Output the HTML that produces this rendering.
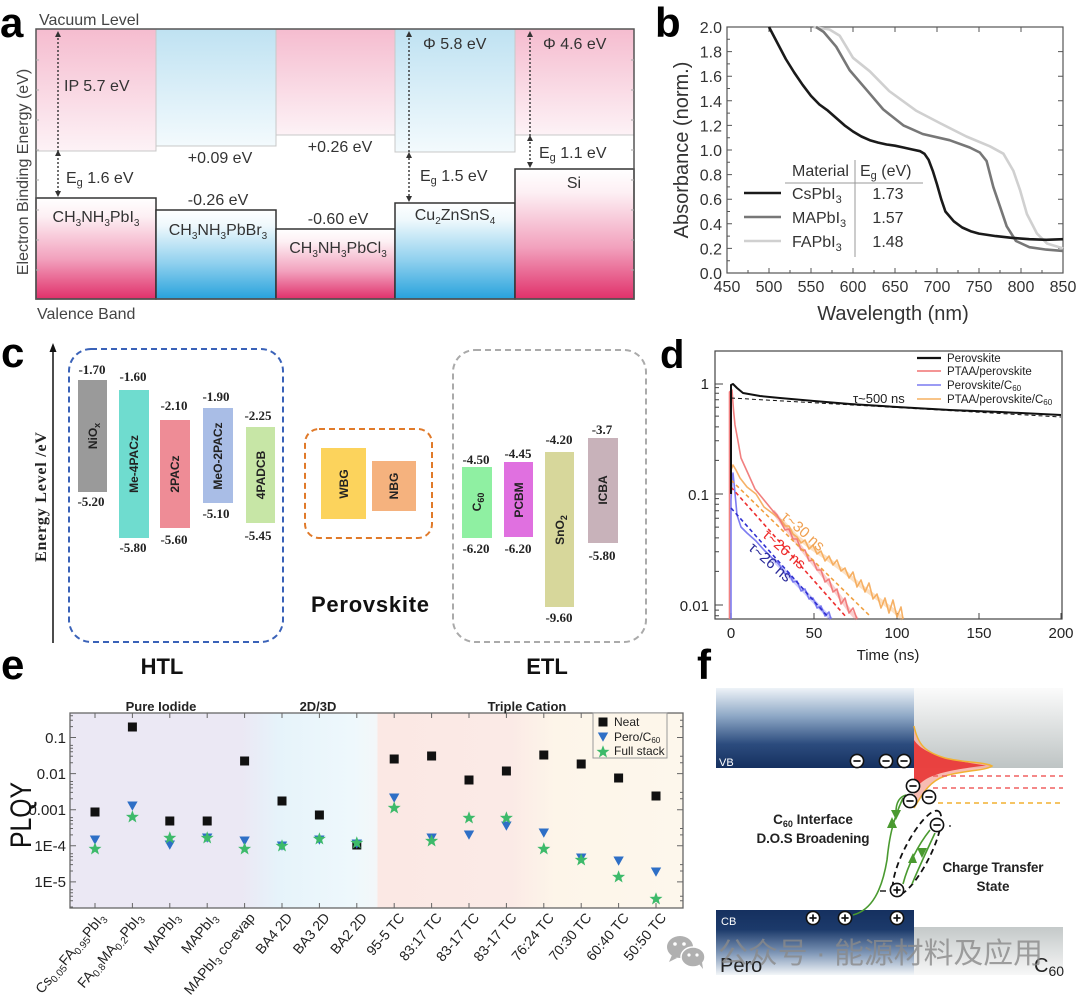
<!DOCTYPE html>
<html><head><meta charset="utf-8">
<style>
html,body{margin:0;padding:0;background:#fff;}
svg{display:block;font-family:"Liberation Sans","Noto Sans CJK SC",sans-serif;}
</style></head><body>
<svg width="1080" height="997" viewBox="0 0 1080 997" xmlns="http://www.w3.org/2000/svg">
<defs>
<linearGradient id="pinkUp" x1="0" y1="0" x2="0" y2="1"><stop offset="0" stop-color="#f5bccf"/><stop offset="1" stop-color="#fdf2f6"/></linearGradient>
<linearGradient id="blueUp" x1="0" y1="0" x2="0" y2="1"><stop offset="0" stop-color="#bfe2f2"/><stop offset="1" stop-color="#f3fafd"/></linearGradient>
<linearGradient id="pinkDn" x1="0" y1="0" x2="0" y2="1"><stop offset="0" stop-color="#ffffff"/><stop offset="0.18" stop-color="#fdf0f4"/><stop offset="0.6" stop-color="#f2a2be"/><stop offset="1" stop-color="#e0306a"/></linearGradient>
<linearGradient id="blueDn" x1="0" y1="0" x2="0" y2="1"><stop offset="0" stop-color="#ffffff"/><stop offset="0.18" stop-color="#eef8fc"/><stop offset="0.6" stop-color="#8fd0ee"/><stop offset="1" stop-color="#27a2dc"/></linearGradient>
<linearGradient id="ebg" x1="0" y1="0" x2="1" y2="0">
<stop offset="0" stop-color="#ebe8f4"/><stop offset="0.28" stop-color="#ebe8f4"/><stop offset="0.34" stop-color="#e6f3fa"/><stop offset="0.46" stop-color="#eef8fc"/><stop offset="0.5" stop-color="#f3f7f9"/><stop offset="0.503" stop-color="#fbe8e4"/><stop offset="0.72" stop-color="#fbeae6"/><stop offset="0.79" stop-color="#fdf5e9"/><stop offset="1" stop-color="#fdf7ec"/></linearGradient>
<linearGradient id="vb" x1="0" y1="0" x2="0" y2="1"><stop offset="0" stop-color="#eef3f8"/><stop offset="0.35" stop-color="#8ea8c6"/><stop offset="0.7" stop-color="#2c4c7e"/><stop offset="1" stop-color="#15305f"/></linearGradient>
<linearGradient id="c60t" x1="0" y1="0" x2="0" y2="1"><stop offset="0" stop-color="#fbfbfb"/><stop offset="1" stop-color="#bec4c4"/></linearGradient>
<linearGradient id="cb" x1="0" y1="0" x2="0" y2="1"><stop offset="0" stop-color="#15305f"/><stop offset="0.3" stop-color="#1c3a6b"/><stop offset="0.65" stop-color="#7a93b4"/><stop offset="1" stop-color="#f3f6f9"/></linearGradient>
<linearGradient id="c60b" x1="0" y1="0" x2="0" y2="1"><stop offset="0" stop-color="#c4c9c9"/><stop offset="1" stop-color="#f7f7f7"/></linearGradient>
<rect id="sq" x="-4.5" y="-4.5" width="9" height="9" fill="#111"/>
<path id="tri" d="M-5.2,-4.5 L5.2,-4.5 0,4.8Z" fill="#2e6fc6"/>
<path id="star" d="M0,-6.8 L1.7,-2.2 6.5,-2.1 2.7,0.9 4,5.5 0,2.8 -4,5.5 -2.7,0.9 -6.5,-2.1 -1.7,-2.2Z" fill="#3dba6a"/>
<g id="mi"><circle r="6.6" fill="#fff" stroke="#111" stroke-width="1.6"/><line x1="-3.6" x2="3.6" y1="0" y2="0" stroke="#111" stroke-width="1.7"/></g>
<g id="pl"><circle r="6.6" fill="#fff" stroke="#111" stroke-width="1.6"/><line x1="-3.6" x2="3.6" y1="0" y2="0" stroke="#111" stroke-width="1.7"/><line y1="-3.6" y2="3.6" x1="0" x2="0" stroke="#111" stroke-width="1.7"/></g>
</defs>

<!-- ================= PANEL A ================= -->
<text x="0" y="37" font-size="42" font-weight="bold" fill="#000">a</text>
<rect x="36" y="29" width="120" height="122" fill="url(#pinkUp)" stroke="#c8c8c8"/>
<rect x="156" y="29" width="120" height="117" fill="url(#blueUp)" stroke="#c8c8c8"/>
<rect x="276" y="29" width="119" height="106" fill="url(#pinkUp)" stroke="#c8c8c8"/>
<rect x="395" y="29" width="120" height="123" fill="url(#blueUp)" stroke="#c8c8c8"/>
<rect x="515" y="29" width="119" height="106" fill="url(#pinkUp)" stroke="#c8c8c8"/>
<rect x="36" y="198" width="120" height="101" fill="url(#pinkDn)" stroke="#333" stroke-width="1.5"/>
<rect x="156" y="210" width="120" height="89" fill="url(#blueDn)" stroke="#333" stroke-width="1.5"/>
<rect x="276" y="229" width="119" height="70" fill="url(#pinkDn)" stroke="#333" stroke-width="1.5"/>
<rect x="395" y="203" width="120" height="96" fill="url(#blueDn)" stroke="#333" stroke-width="1.5"/>
<rect x="515" y="169" width="119" height="130" fill="url(#pinkDn)" stroke="#333" stroke-width="1.5"/>
<rect x="36" y="29" width="598" height="270" fill="none" stroke="#555" stroke-width="1.5"/>
<g stroke="#aaa" stroke-width="1">
<path d="M36,60h3M36,90h3M36,120h3M36,150h3M36,180h3M36,210h3M36,240h3M36,270h3"/>
<path d="M634,60h-3M634,90h-3M634,120h-3M634,150h-3M634,180h-3M634,210h-3M634,240h-3M634,270h-3"/>
</g>
<g stroke="#333" stroke-width="1.4" stroke-dasharray="2,2" fill="none">
<line x1="58" y1="34" x2="58" y2="194"/>
<line x1="409" y1="34" x2="409" y2="198"/>
<line x1="530" y1="34" x2="530" y2="164"/>
</g>
<g fill="#333">
<path d="M58,31 l-3,6 h6z M58,150 l-3,6 h6z M58,197 l-3,-6 h6z"/>
<path d="M409,31 l-3,6 h6z M409,152 l-3,6 h6z M409,202 l-3,-6 h6z"/>
<path d="M530,31 l-3,6 h6z M530,135 l-3,6 h6z M530,168 l-3,-6 h6z"/>
</g>
<g font-size="16" fill="#333">
<text x="39" y="25" fill="#444">Vacuum Level</text>
<text x="37" y="319" fill="#444">Valence Band</text>
<text x="64" y="91">IP 5.7 eV</text>
<text x="66" y="183">E<tspan font-size="11" dy="3">g</tspan><tspan dy="-3"> 1.6 eV</tspan></text>
<text x="96" y="222" text-anchor="middle">CH<tspan font-size="10" dy="4">3</tspan><tspan dy="-4">NH</tspan><tspan font-size="10" dy="4">3</tspan><tspan dy="-4">PbI</tspan><tspan font-size="10" dy="4">3</tspan></text>
<text x="220" y="163" text-anchor="middle">+0.09 eV</text>
<text x="218" y="205" text-anchor="middle">-0.26 eV</text>
<text x="218" y="235" text-anchor="middle">CH<tspan font-size="10" dy="4">3</tspan><tspan dy="-4">NH</tspan><tspan font-size="10" dy="4">3</tspan><tspan dy="-4">PbBr</tspan><tspan font-size="10" dy="4">3</tspan></text>
<text x="340" y="152" text-anchor="middle">+0.26 eV</text>
<text x="338" y="224" text-anchor="middle">-0.60 eV</text>
<text x="338" y="253" text-anchor="middle">CH<tspan font-size="10" dy="4">3</tspan><tspan dy="-4">NH</tspan><tspan font-size="10" dy="4">3</tspan><tspan dy="-4">PbCl</tspan><tspan font-size="10" dy="4">3</tspan></text>
<text x="423" y="49">Φ 5.8 eV</text>
<text x="420" y="181">E<tspan font-size="11" dy="3">g</tspan><tspan dy="-3"> 1.5 eV</tspan></text>
<text x="455" y="220" text-anchor="middle">Cu<tspan font-size="10" dy="4">2</tspan><tspan dy="-4">ZnSnS</tspan><tspan font-size="10" dy="4">4</tspan></text>
<text x="543" y="49">Φ 4.6 eV</text>
<text x="539" y="158">E<tspan font-size="11" dy="3">g</tspan><tspan dy="-3"> 1.1 eV</tspan></text>
<text x="574" y="188" text-anchor="middle">Si</text>
</g>
<text transform="translate(28,172) rotate(-90)" font-size="16" fill="#444" text-anchor="middle">Electron Binding Energy (eV)</text>

<!-- ================= PANEL B ================= -->
<text x="655" y="37" font-size="42" font-weight="bold" fill="#000">b</text>
<rect x="727" y="27" width="336" height="246" fill="none" stroke="#555" stroke-width="1.2"/>
<g stroke="#555" stroke-width="1">
<path d="M769,273v-5M811,273v-5M853,273v-5M895,273v-5M937,273v-5M979,273v-5M1021,273v-5"/>
<path d="M748,273v-3M790,273v-3M832,273v-3M874,273v-3M916,273v-3M958,273v-3M1000,273v-3M1042,273v-3"/>
<path d="M769,27v5M811,27v5M853,27v5M895,27v5M937,27v5M979,27v5M1021,27v5"/>
<path d="M727,51.6h5M727,76.2h5M727,100.8h5M727,125.4h5M727,150h5M727,174.6h5M727,199.2h5M727,223.8h5M727,248.4h5"/>
<path d="M727,39.3h3M727,63.9h3M727,88.5h3M727,113.1h3M727,137.7h3M727,162.3h3M727,186.9h3M727,211.5h3M727,236.1h3M727,260.7h3"/>
<path d="M1063,51.6h-5M1063,76.2h-5M1063,100.8h-5M1063,125.4h-5M1063,150h-5M1063,174.6h-5M1063,199.2h-5M1063,223.8h-5M1063,248.4h-5"/>
</g>
<g font-size="16" fill="#333" text-anchor="end">
<text x="722" y="33">2.0</text><text x="722" y="57.6">1.8</text><text x="722" y="82.2">1.6</text><text x="722" y="106.8">1.4</text><text x="722" y="131.4">1.2</text><text x="722" y="156">1.0</text><text x="722" y="180.6">0.8</text><text x="722" y="205.2">0.6</text><text x="722" y="229.8">0.4</text><text x="722" y="254.4">0.2</text><text x="722" y="279">0.0</text>
</g>
<g font-size="16" fill="#333" text-anchor="middle">
<text x="727" y="292">450</text><text x="769" y="292">500</text><text x="811" y="292">550</text><text x="853" y="292">600</text><text x="895" y="292">650</text><text x="937" y="292">700</text><text x="979" y="292">750</text><text x="1021" y="292">800</text><text x="1063" y="292">850</text>
</g>
<text x="893" y="320" font-size="20" fill="#333" text-anchor="middle">Wavelength (nm)</text>
<text transform="translate(688,150) rotate(-90)" font-size="20" fill="#333" text-anchor="middle">Absorbance (norm.)</text>
<g fill="none" stroke-linejoin="round">
<polyline stroke="#d0d0d0" stroke-width="2.6" points="813.5,27 829.5,29.5 839.6,35.6 853,57.8 869.8,71.3 889.1,91 916,110.6 939.5,122.9 966.4,136.5 989.9,146.3 1003.4,153.7 1013.4,170.9 1020.2,190.6 1026.9,214 1037,233.6 1047,243.5 1063,248.4"/>
<polyline stroke="#777" stroke-width="2.6" points="816,27 823.6,31.9 836.2,46.7 849.6,70.1 866.4,89.7 883.2,109.4 903.4,125.4 922.7,134 949.6,140.2 969.8,147.5 979.8,152.5 986.6,161.1 993.3,186.9 1000,206.6 1006.7,226.3 1016,241 1029.4,247.2 1046.2,249.6 1063,250.9"/>
<polyline stroke="#1a1a1a" stroke-width="2.6" points="769,27 777.4,43 785.8,59 794.2,72.5 802.6,84.8 811,95.9 819.4,104.5 827.8,110.6 836.2,118 844.6,125.4 853,131.5 861.4,136.5 869.8,140.2 878.2,142.6 886.6,144.5 895,145.7 903.4,147.5 911.8,149.4 920.2,151.2 924.4,153.7 928.6,159.8 932.8,170.9 937,184.4 941.2,199.2 945.4,211.5 953.8,221.3 962.2,227.5 970.6,231.2 979,233.6 995.8,236.1 1012.6,237.9 1029.4,239.2 1046.2,239.8 1063,239.2"/>
</g>
<line x1="785" y1="183" x2="923" y2="183" stroke="#999" stroke-width="1"/>
<line x1="855" y1="160" x2="855" y2="257" stroke="#999" stroke-width="1"/>
<g font-size="16" fill="#333">
<text x="792" y="176">Material</text>
<text x="860" y="176">E<tspan font-size="11" dy="3">g</tspan><tspan dy="-3"> (eV)</tspan></text>
<text x="792" y="199">CsPbI<tspan font-size="11" dy="4">3</tspan></text>
<text x="792" y="223">MAPbI<tspan font-size="11" dy="4">3</tspan></text>
<text x="792" y="247">FAPbI<tspan font-size="11" dy="4">3</tspan></text>
<text x="888" y="199" text-anchor="middle">1.73</text>
<text x="888" y="223" text-anchor="middle">1.57</text>
<text x="888" y="247" text-anchor="middle">1.48</text>
</g>
<line x1="744" y1="193" x2="781" y2="193" stroke="#1a1a1a" stroke-width="2.6"/>
<line x1="744" y1="217" x2="781" y2="217" stroke="#777" stroke-width="2.6"/>
<line x1="744" y1="241" x2="781" y2="241" stroke="#d0d0d0" stroke-width="2.6"/>

<!-- ================= PANEL C ================= -->
<text x="1" y="367" font-size="42" font-weight="bold" fill="#000">c</text>
<line x1="53" y1="643" x2="53" y2="350" stroke="#111" stroke-width="1.5"/>
<path d="M53,343 l-3.5,9 h7z" fill="#111"/>
<text transform="translate(46,497) rotate(-90)" font-family="Liberation Serif,serif" font-weight="bold" font-size="16" fill="#222" text-anchor="middle" textLength="130">Energy Level  /eV</text>
<rect x="69" y="349" width="214" height="293" rx="22" fill="none" stroke="#3a62b8" stroke-width="2" stroke-dasharray="6,4"/>
<rect x="453" y="350" width="193" height="292" rx="22" fill="none" stroke="#aaa" stroke-width="2" stroke-dasharray="6,4"/>
<rect x="305" y="429" width="127" height="109" rx="14" fill="none" stroke="#e07a2a" stroke-width="2" stroke-dasharray="6,4"/>
<rect x="78" y="380" width="29" height="112" fill="#9a9a9a"/>
<rect x="119" y="390" width="30" height="148" fill="#6fdccf"/>
<rect x="160" y="420" width="30" height="108" fill="#ee8c96"/>
<rect x="203" y="408" width="30" height="95" fill="#a9bde6"/>
<rect x="246" y="427" width="29" height="96" fill="#c7e6a6"/>
<rect x="321" y="448" width="45" height="71" fill="#fcd35c"/>
<rect x="372" y="461" width="44" height="50" fill="#f5b27e"/>
<rect x="462" y="467" width="30" height="71" fill="#8ff0a2"/>
<rect x="504" y="462" width="29" height="75" fill="#e070e0"/>
<rect x="545" y="452" width="29" height="155" fill="#d7d79b"/>
<rect x="588" y="438" width="30" height="105" fill="#c8b2ba"/>
<g font-size="12" font-weight="bold" fill="#222" text-anchor="middle">
<text transform="translate(97,436) rotate(-90)">NiO<tspan font-size="9" dy="3">x</tspan></text>
<text transform="translate(138,464) rotate(-90)">Me-4PACz</text>
<text transform="translate(179,474) rotate(-90)">2PACz</text>
<text transform="translate(222,456) rotate(-90)">MeO-2PACz</text>
<text transform="translate(265,475) rotate(-90)">4PADCB</text>
<text transform="translate(348,484) rotate(-90)">WBG</text>
<text transform="translate(398,486) rotate(-90)">NBG</text>
<text transform="translate(481,502) rotate(-90)">C<tspan font-size="9" dy="3">60</tspan></text>
<text transform="translate(523,500) rotate(-90)">PCBM</text>
<text transform="translate(564,530) rotate(-90)">SnO<tspan font-size="9" dy="3">2</tspan></text>
<text transform="translate(607,490) rotate(-90)">ICBA</text>
</g>
<g font-family="Liberation Serif,serif" font-weight="bold" font-size="13" fill="#222" text-anchor="middle">
<text x="92" y="374">-1.70</text><text x="91" y="506">-5.20</text>
<text x="133" y="381">-1.60</text><text x="133" y="552">-5.80</text>
<text x="174" y="410">-2.10</text><text x="174" y="544">-5.60</text>
<text x="216" y="401">-1.90</text><text x="216" y="518">-5.10</text>
<text x="258" y="420">-2.25</text><text x="258" y="540">-5.45</text>
<text x="476" y="464">-4.50</text><text x="476" y="553">-6.20</text>
<text x="518" y="458">-4.45</text><text x="518" y="553">-6.20</text>
<text x="559" y="444">-4.20</text><text x="559" y="622">-9.60</text>
<text x="602" y="434">-3.7</text><text x="602" y="560">-5.80</text>
</g>
<text x="370" y="612" font-size="22" font-weight="bold" fill="#111" text-anchor="middle" textLength="118">Perovskite</text>
<text x="162" y="674" font-size="22" font-weight="bold" fill="#111" text-anchor="middle">HTL</text>
<text x="547" y="674" font-size="22" font-weight="bold" fill="#111" text-anchor="middle">ETL</text>

<!-- ================= PANEL D ================= -->
<text x="660" y="368" font-size="40" font-weight="bold" fill="#000">d</text>
<rect x="715" y="351" width="347" height="268" fill="none" stroke="#444" stroke-width="1.2"/>
<g stroke="#444" stroke-width="1">
<path d="M715,384h8M715,494h8M715,605h8"/>
<path d="M715,460.4h4M715,440.8h4M715,426.9h4M715,416.1h4M715,407.2h4M715,399.8h4M715,393.3h4M715,387.6h4"/>
<path d="M715,571.4h4M715,551.8h4M715,537.9h4M715,527.1h4M715,518.2h4M715,510.8h4M715,504.3h4M715,498.6h4M715,610.1h4M715,615.8h4"/>
<path d="M731,619v-6M814,619v-6M897,619v-6M979,619v-6M1061,619v-6"/>
</g>
<g font-size="15" fill="#222">
<text x="709" y="389" text-anchor="end">1</text>
<text x="709" y="500" text-anchor="end">0.1</text>
<text x="709" y="611" text-anchor="end">0.01</text>
<text x="731" y="638" text-anchor="middle">0</text>
<text x="814" y="638" text-anchor="middle">50</text>
<text x="897" y="638" text-anchor="middle">100</text>
<text x="979" y="638" text-anchor="middle">150</text>
<text x="1061" y="638" text-anchor="middle">200</text>
<text x="888" y="660" text-anchor="middle">Time (ns)</text>
</g>
<g fill="none" stroke-linejoin="round">
<polyline stroke="#f5a855" stroke-width="4" opacity="0.35" points="781,520 797,537 813,549 829,560 845,572 861,586 877,598 893,610 903,619"/>
<polyline stroke="#f07272" stroke-width="4" opacity="0.35" points="773,511 789,532 805,553 821,573 837,593 849,610 857,619"/>
<polyline stroke="#6f6ff0" stroke-width="4" opacity="0.35" points="773,559 789,576 805,592 821,609 831,619"/>
<polyline stroke="#f5a855" stroke-width="1.6" opacity="0.9" points="731,470 733,465 736,470 740,478 747,487 756,494 764,507 772,513 781,520 785,526 789,526 793,534 797,537 801,543 805,540 809,549 813,545 817,554 821,551 825,561 829,556 833,565 837,560 841,571 845,568 849,578 853,572 857,587 861,580 865,592 869,583 873,599 877,594 881,608 885,598 889,613 893,600 897,617 901,607 903,619"/>
<polyline stroke="#f07272" stroke-width="1.6" opacity="0.9" points="729.5,619 729.5,392 732,390 733.5,410 735,425 737.8,440 741,458 747.8,473 755,489 764,500 773,511 777,515 781,522 785,530 789,529 793,539 797,539 801,550 805,550 809,561 813,560 817,570 821,570 825,582 829,579 833,592 837,589 841,604 845,598 849,613 853,608 857,619"/>
<polyline stroke="#6f6ff0" stroke-width="1.6" opacity="0.9" points="731,619 731,500 732,480 733,473 735,493 737,515 741,527 747,533 756,541 764,550 773,559 777,562 781,567 785,574 789,573 793,582 797,581 801,591 805,589 809,599 813,598 817,608 821,606 825,616 829,612 831,619"/>
<line x1="731" y1="480" x2="871" y2="617" stroke="#f0a040" stroke-width="1.6" stroke-dasharray="4,3"/>
<line x1="731" y1="487" x2="847" y2="618" stroke="#ee3030" stroke-width="1.6" stroke-dasharray="4,3"/>
<line x1="731" y1="508" x2="829" y2="618" stroke="#3030d0" stroke-width="1.6" stroke-dasharray="4,3"/>
<polyline stroke="#111" stroke-width="2" points="731,494 731,385 733,384 737,388 743,393 760,396 780,398 814,401 850,404 897,407 950,410 1000,412 1061,415"/>
<line x1="731" y1="398" x2="1061" y2="417" stroke="#111" stroke-width="1" stroke-dasharray="4,3"/>
</g>
<g font-size="15">
<text transform="translate(800,535) rotate(41)" fill="#f0a050" text-anchor="middle">τ~30 ns</text>
<text transform="translate(781,553) rotate(41)" fill="#ee2b2b" text-anchor="middle">τ~26 ns</text>
<text transform="translate(767,566) rotate(41)" fill="#2a2a9a" text-anchor="middle">τ~26 ns</text>
</g>
<text x="853" y="403" font-size="13" fill="#222">τ~500 ns</text>
<line x1="917" y1="358" x2="941" y2="358" stroke="#111" stroke-width="2.2"/>
<line x1="917" y1="371" x2="941" y2="371" stroke="#f07272" stroke-width="1.6"/>
<line x1="917" y1="385" x2="941" y2="385" stroke="#7a7af0" stroke-width="1.6"/>
<line x1="917" y1="399" x2="941" y2="399" stroke="#f5b060" stroke-width="1.6"/>
<g font-size="11.5" fill="#222">
<text x="947" y="362">Perovskite</text>
<text x="947" y="375">PTAA/perovskite</text>
<text x="947" y="389">Perovskite/C<tspan font-size="8" dy="2">60</tspan></text>
<text x="947" y="403">PTAA/perovskite/C<tspan font-size="8" dy="2">60</tspan></text>
</g>

<!-- ================= PANEL E ================= -->
<text x="1" y="679" font-size="42" font-weight="bold" fill="#000">e</text>
<rect x="70" y="713" width="613" height="195" fill="url(#ebg)"/>
<rect x="70" y="713" width="613" height="195" fill="none" stroke="#666" stroke-width="1.3"/>
<g stroke="#666" stroke-width="1">
<path d="M70,737.5h6M70,773.6h6M70,809.7h6M70,845.8h6M70,881.9h6"/>
<path d="M683,737.5h-6M683,773.6h-6M683,809.7h-6M683,845.8h-6M683,881.9h-6"/>
<path d="M70,726.6h3M70,720.2h3M70,715.7h3M70,762.7h3M70,756.3h3M70,751.8h3M70,748.3h3M70,745.4h3M70,798.8h3M70,792.4h3M70,787.9h3M70,784.4h3M70,781.5h3M70,834.9h3M70,828.5h3M70,824h3M70,820.5h3M70,817.6h3M70,871h3M70,864.6h3M70,860.1h3M70,856.6h3M70,853.7h3M70,907h3M70,900.7h3M70,896.2h3M70,892.7h3M70,889.8h3"/>
<path d="M683,726.6h-3M683,720.2h-3M683,762.7h-3M683,756.3h-3M683,798.8h-3M683,792.4h-3M683,834.9h-3M683,828.5h-3M683,871h-3M683,864.6h-3M683,900.7h-3M683,896.2h-3"/>
<path d="M95,908v-5M132.4,908v-5M169.8,908v-5M207.2,908v-5M244.6,908v-5M282,908v-5M319.4,908v-5M356.8,908v-5M394.2,908v-5M431.6,908v-5M469,908v-5M506.4,908v-5M543.8,908v-5M581.2,908v-5M618.6,908v-5M656,908v-5"/>
<path d="M95,713v5M132.4,713v5M169.8,713v5M207.2,713v5M244.6,713v5M282,713v5M319.4,713v5M356.8,713v5M394.2,713v5M431.6,713v5M469,713v5M506.4,713v5M543.8,713v5M581.2,713v5M618.6,713v5M656,713v5"/>
</g>
<g font-size="15" fill="#222" text-anchor="end">
<text x="66" y="743">0.1</text><text x="66" y="779">0.01</text><text x="66" y="815">0.001</text><text x="66" y="851">1E-4</text><text x="66" y="887">1E-5</text>
</g>
<text transform="translate(31,815) rotate(-90)" font-size="30" fill="#111" text-anchor="middle" textLength="66" lengthAdjust="spacingAndGlyphs">PLQY</text>
<g font-size="13" font-weight="bold" fill="#222" text-anchor="middle">
<text x="161" y="711">Pure Iodide</text>
<text x="318" y="711">2D/3D</text>
<text x="527" y="711">Triple Cation</text>
</g>
<g>
<use href="#sq" x="95" y="812"/><use href="#sq" x="132.4" y="727"/><use href="#sq" x="169.8" y="821"/><use href="#sq" x="207.2" y="821"/><use href="#sq" x="244.6" y="761"/><use href="#sq" x="282" y="801"/><use href="#sq" x="319.4" y="815"/><use href="#sq" x="356.8" y="845"/><use href="#sq" x="394.2" y="759"/><use href="#sq" x="431.6" y="756"/><use href="#sq" x="469" y="780"/><use href="#sq" x="506.4" y="771"/><use href="#sq" x="543.8" y="755"/><use href="#sq" x="581.2" y="764"/><use href="#sq" x="618.6" y="778"/><use href="#sq" x="656" y="796"/>
<use href="#tri" x="95" y="840"/><use href="#tri" x="132.4" y="806"/><use href="#tri" x="169.8" y="845"/><use href="#tri" x="207.2" y="838"/><use href="#tri" x="244.6" y="841"/><use href="#tri" x="282" y="846"/><use href="#tri" x="319.4" y="840"/><use href="#tri" x="356.8" y="844"/><use href="#tri" x="394.2" y="798"/><use href="#tri" x="431.6" y="838"/><use href="#tri" x="469" y="835"/><use href="#tri" x="506.4" y="826"/><use href="#tri" x="543.8" y="833"/><use href="#tri" x="581.2" y="858"/><use href="#tri" x="618.6" y="861"/><use href="#tri" x="656" y="872"/>
<use href="#star" x="95" y="849"/><use href="#star" x="132.4" y="817"/><use href="#star" x="169.8" y="838"/><use href="#star" x="207.2" y="838"/><use href="#star" x="244.6" y="849"/><use href="#star" x="282" y="846"/><use href="#star" x="319.4" y="839"/><use href="#star" x="356.8" y="843"/><use href="#star" x="394.2" y="808"/><use href="#star" x="431.6" y="841"/><use href="#star" x="469" y="818"/><use href="#star" x="506.4" y="818"/><use href="#star" x="543.8" y="849"/><use href="#star" x="581.2" y="860"/><use href="#star" x="618.6" y="877"/><use href="#star" x="656" y="899"/>
</g>
<rect x="593" y="713" width="74" height="45" fill="#fdf6ea" stroke="#999" stroke-width="1"/>
<use href="#sq" x="603" y="722"/>
<use href="#tri" x="603" y="737"/>
<use href="#star" x="603" y="752"/>
<g font-size="12" fill="#222">
<text x="614" y="726">Neat</text>
<text x="614" y="741">Pero/C<tspan font-size="8" dy="2">60</tspan></text>
<text x="614" y="755">Full stack</text>
</g>
<g font-size="14" fill="#222" text-anchor="end">
<text transform="translate(106,918) rotate(-50)">Cs<tspan font-size="10" dy="3">0.05</tspan><tspan dy="-3">FA</tspan><tspan font-size="10" dy="3">0.95</tspan><tspan dy="-3">PbI</tspan><tspan font-size="10" dy="3">3</tspan></text>
<text transform="translate(143.4,918) rotate(-50)">FA<tspan font-size="10" dy="3">0.8</tspan><tspan dy="-3">MA</tspan><tspan font-size="10" dy="3">0.2</tspan><tspan dy="-3">PbI</tspan><tspan font-size="10" dy="3">3</tspan></text>
<text transform="translate(180.8,918) rotate(-50)">MAPbI<tspan font-size="10" dy="3">3</tspan></text>
<text transform="translate(218.2,918) rotate(-50)">MAPbI<tspan font-size="10" dy="3">3</tspan></text>
<text transform="translate(255.6,918) rotate(-50)">MAPbI<tspan font-size="10" dy="3">3</tspan><tspan dy="-3"> co-evap</tspan></text>
<text transform="translate(293,918) rotate(-50)">BA4 2D</text>
<text transform="translate(330.4,918) rotate(-50)">BA3 2D</text>
<text transform="translate(367.8,918) rotate(-50)">BA2 2D</text>
<text transform="translate(405.2,918) rotate(-50)">95-5 TC</text>
<text transform="translate(442.6,918) rotate(-50)">83:17 TC</text>
<text transform="translate(480,918) rotate(-50)">83-17 TC</text>
<text transform="translate(517.4,918) rotate(-50)">83-17 TC</text>
<text transform="translate(554.8,918) rotate(-50)">76:24 TC</text>
<text transform="translate(592.2,918) rotate(-50)">70:30 TC</text>
<text transform="translate(629.6,918) rotate(-50)">60:40 TC</text>
<text transform="translate(667,918) rotate(-50)">50:50 TC</text>
</g>
<g fill="#b0b0b0">
<ellipse cx="680" cy="947" rx="13" ry="11"/>
<path d="M672,955 l-3,7 l8,-4z"/>
<ellipse cx="693" cy="957" rx="12" ry="10" stroke="#fff" stroke-width="1.5"/>
<path d="M699,964 l4,5 l-1,-7z"/>
</g>
<g fill="#fff"><circle cx="675" cy="944" r="1.8"/><circle cx="684" cy="944" r="1.8"/><circle cx="689" cy="955" r="1.6"/><circle cx="697" cy="955" r="1.6"/></g>

<!-- ================= PANEL F ================= -->
<text x="697" y="679" font-size="42" font-weight="bold" fill="#000">f</text>
<rect x="716" y="688" width="198" height="80" fill="url(#vb)"/>
<rect x="914" y="688" width="149" height="80" fill="url(#c60t)"/>
<rect x="716" y="910" width="198" height="65" fill="url(#cb)"/>
<rect x="914" y="927" width="149" height="48" fill="url(#c60b)"/>
<text x="719" y="766" font-size="11" fill="#fff">VB</text>
<text x="721" y="925" font-size="11" fill="#fff">CB</text>
<path d="M914,726 C918,745 925,752 945,758 C965,763 985,762 992,766 C985,771 965,770 945,776 C928,782 922,795 914,808 Z" fill="#f6b0a6" opacity="0.85"/>
<path d="M914,740 C922,752 940,759 986,765.5 C940,771 922,776 914,792 Z" fill="#e83434" opacity="0.9"/>
<path d="M914,726 C918,745 925,752 945,758 C965,763 985,762 992,766 C985,771 965,770 945,776 C928,782 922,795 914,808" fill="none" stroke="#f2b233" stroke-width="1.5"/>
<g stroke-width="1.5" stroke-dasharray="5,4">
<line x1="933" y1="776" x2="1063" y2="776" stroke="#f06060"/>
<line x1="933" y1="788" x2="1063" y2="788" stroke="#f06060"/>
<line x1="938" y1="803" x2="1063" y2="803" stroke="#f2b030"/>
</g>
<ellipse cx="917" cy="853" rx="47" ry="13" transform="rotate(-63 917 853)" fill="none" stroke="#111" stroke-width="1.8" stroke-dasharray="6,4"/>
<g fill="none" stroke="#4a9a30" stroke-width="1.6">
<path d="M853,915 C872,910 882,890 887,860 C889,840 892,822 903,798"/>
<path d="M906,795 C899,797 896,803 896,812"/>
<path d="M903,884 C908,865 918,845 930,830"/>
<path d="M935,833 C928,848 920,865 912,884"/>
</g>
<g fill="#4a9a30">
<path d="M892,817 l-5,11 h10z"/>
<path d="M896,820 l-5,-10 h10z"/>
<path d="M913,853 l-5,10 h9z"/>
<path d="M922,858 l-5,-10 h10z"/>
</g>
<use href="#mi" x="857" y="761"/>
<use href="#mi" x="886" y="761"/>
<use href="#mi" x="904" y="761"/>
<use href="#mi" x="913" y="786"/>
<use href="#mi" x="910" y="801"/>
<use href="#mi" x="929" y="797"/>
<use href="#mi" x="937" y="825"/>
<use href="#pl" x="813" y="918"/>
<use href="#pl" x="845" y="918"/>
<use href="#pl" x="897" y="918"/>
<use href="#pl" x="897" y="890"/>
<line x1="880" y1="891" x2="886" y2="891" stroke="#111" stroke-width="1.4"/>
<circle cx="950" cy="826" r="0.9" fill="#111"/>
<g font-size="13.5" font-weight="bold" fill="#222" text-anchor="middle">
<text x="813" y="824">C<tspan font-size="9" dy="3">60</tspan><tspan dy="-3"> Interface</tspan></text>
<text x="813" y="843" textLength="113">D.O.S Broadening</text>
<text x="993" y="872" textLength="101">Charge Transfer</text>
<text x="993" y="891">State</text>
</g>
<text x="720" y="972" font-size="20" fill="#222">Pero</text>
<text x="1034" y="972" font-size="20" fill="#222">C<tspan font-size="14" dy="4">60</tspan></text>
<text x="718" y="963" font-family="'Liberation Sans','Noto Sans CJK SC',sans-serif" font-size="29" fill="#8a8a8a" fill-opacity="0.8" textLength="325" lengthAdjust="spacingAndGlyphs">公众号 · 能源材料及应用</text>
</svg>
</body></html>
